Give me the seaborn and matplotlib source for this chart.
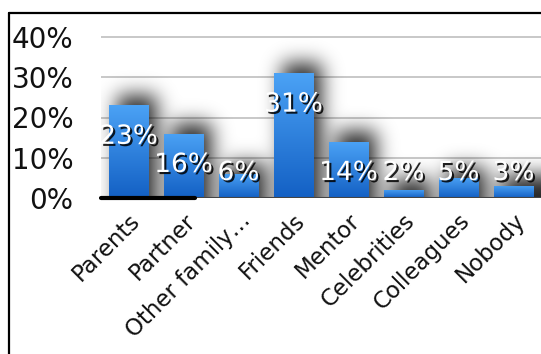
import numpy as np
import pandas as pd
import matplotlib
matplotlib.use("Agg")
import matplotlib.pyplot as plt
import matplotlib.patheffects as pe
from matplotlib.lines import Line2D
from matplotlib.colors import LinearSegmentedColormap
import seaborn as sns

categories = ["Parents", "Partner", "Other family…", "Friends", "Mentor",
              "Celebrities", "Colleagues", "Nobody"]
values = [23, 16, 6, 31, 14, 2, 5, 3]
y_ticks = [0, 10, 20, 30, 40]
y_tick_labels = ["0%", "10%", "20%", "30%", "40%"]

df = pd.DataFrame({"category": categories, "share": values})

sns.set_theme(style="white")
plt.rcParams["font.family"] = ["DejaVu Sans"]

W, H = 541, 354
fig = plt.figure(figsize=(W / 100, H / 100), dpi=100)
fig.patch.set_facecolor("white")

ax_left, ax_right = 101 / W, 541 / W
ax_bottom, ax_top = (H - 198) / H, (H - 33) / H
ax = fig.add_axes([ax_left, ax_bottom, ax_right - ax_left, ax_top - ax_bottom])
ymax = 40 * (198 - 33) / (198 - 37)

sns.barplot(data=df, x="category", y="share", ax=ax, width=0.71,
            color="#2f80dc", saturation=1, zorder=3)
ax.set_xlim(-0.5, len(categories) - 0.5)
ax.set_ylim(0, ymax)

# soft drop shadow behind the bars
nx, ny = 880, 340
xs = np.linspace(-0.5, len(categories) - 0.5, nx)
ys = np.linspace(0, ymax, ny)
XX, YY = np.meshgrid(xs, ys)
mask = np.zeros((ny, nx))
dx, dy = 0.15, 2.6
for p in ax.patches:
    x0 = p.get_x() + dx
    x1 = x0 + p.get_width()
    top = p.get_height() + dy
    mask[(XX >= x0) & (XX <= x1) & (YY <= top)] = 1.0

def gauss_blur(a, sigma, axis):
    r = int(3 * sigma)
    k = np.exp(-0.5 * (np.arange(-r, r + 1) / sigma) ** 2)
    k /= k.sum()
    return np.apply_along_axis(lambda m: np.convolve(np.pad(m, r, mode="edge"), k, mode="valid"), axis, a)

px_per_cell_x = (W * (ax_right - ax_left)) / nx
px_per_cell_y = (H * (ax_top - ax_bottom)) / ny
blur = gauss_blur(mask, 10 / px_per_cell_x, 1)
blur = gauss_blur(blur, 10 / px_per_cell_y, 0)
rgba = np.zeros((ny, nx, 4))
rgba[..., 3] = np.clip(blur * 0.85, 0, 1)
ax.imshow(rgba, extent=(xs[0], xs[-1], 0, ymax), origin="lower",
          aspect="auto", zorder=2, interpolation="bilinear")

# vertical gradient fill on each bar
grad = LinearSegmentedColormap.from_list("bar", ["#1360c4", "#4ba2f5"])
gy = np.linspace(0, 1, 256).reshape(-1, 1)
for p in ax.patches:
    x0, w, h = p.get_x(), p.get_width(), p.get_height()
    im = ax.imshow(gy, cmap=grad, extent=(x0, x0 + w, 0, h), origin="lower",
                   aspect="auto", zorder=4)
    im.set_clip_path(p)
    p.set_alpha(0)

ax.set_xlim(-0.5, len(categories) - 0.5)
ax.set_ylim(0, ymax)

# value labels
fx = [pe.SimplePatchShadow(offset=(1.5, -1.5), shadow_rgbFace="black", alpha=0.85),
      pe.Normal()]
for i, v in enumerate(values):
    ly = max(v - 7.8, 6.2)
    ax.text(i, ly, f"{v}%", ha="center", va="center", fontsize=19,
            color="white", zorder=6, path_effects=fx)

ax.set_yticks(y_ticks)
ax.set_yticklabels(y_tick_labels, fontsize=20, color="#111111")
ax.tick_params(axis="y", length=0, pad=20)
ax.set_xticks(range(len(categories)))
ax.set_xticklabels(categories, rotation=45, ha="right", rotation_mode="anchor",
                   fontsize=16.5, color="#111111")
ax.tick_params(axis="x", length=0, pad=8)
ax.set_xlabel("")
ax.set_ylabel("")
for s in ax.spines.values():
    s.set_visible(False)
for t in y_ticks[1:]:
    ax.axhline(t, color="#c8c8c8", lw=1.4, zorder=1)
ax.axhline(0, color="#444444", lw=1.5, zorder=5)
ax.plot([-0.5, 1.2], [0, 0], color="black", lw=3, zorder=5, clip_on=False)
ax.set_facecolor("none")

# outer frame
fig.add_artist(Line2D([9 / W, 9 / W], [0, (H - 13) / H], color="black", lw=1.6))
fig.add_artist(Line2D([9 / W, 1], [(H - 13) / H, (H - 13) / H], color="black", lw=1.6))

fig.savefig("out.png", dpi=100)
